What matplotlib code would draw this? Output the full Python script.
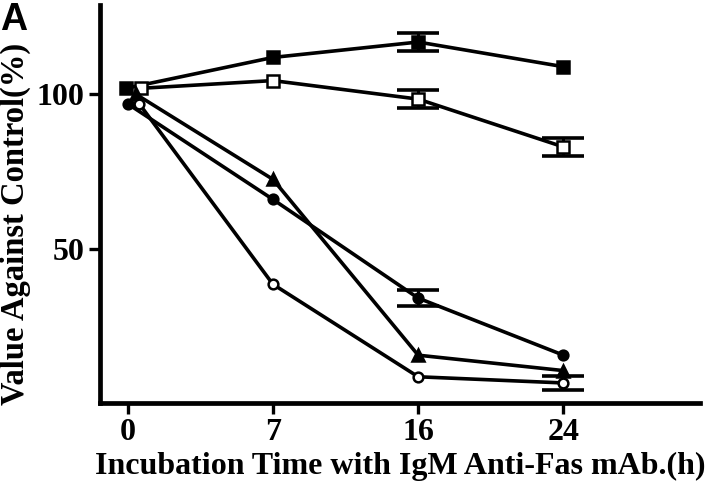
import matplotlib
matplotlib.use("Agg")
import matplotlib.pyplot as plt
import numpy as np

# Data
time_labels = ["0", "7", "16", "24"]
x_pos = [0, 1, 2, 3]

filled_square = [102, 112, 117, 109]
filled_square_err = [0, 0, 3, 0]
open_square = [102, 104.5, 98.5, 83]
open_square_err = [0, 0, 3, 3]
filled_triangle = [100, 72.5, 15.5, 10.5]
filled_triangle_err = [0, 0, 0, 0]
filled_circle = [97, 66, 34, 15.5]
filled_circle_err = [0, 0, 2.5, 0]
open_circle = [97, 38.5, 8.5, 6.5]
open_circle_err = [0, 0, 0, 2.3]

# small horizontal offset of the first markers as drawn in the original
start_offsets = {"fs": -0.01, "os": 0.09, "ft": 0.06, "fc": 0.0, "oc": 0.08}

plt.rcParams['font.family'] = ['Liberation Serif', 'DejaVu Serif']

fig = plt.figure(figsize=(7.2, 4.91), dpi=100)
ax = fig.add_axes([100/720, (491-403)/491, 600/720, 398/491])

lw = 2.6
series = [
    (filled_square, filled_square_err, 's', 'black', 8.5, "fs"),
    (open_square, open_square_err, 's', 'white', 8.5, "os"),
    (filled_triangle, filled_triangle_err, '^', 'black', 8.5, "ft"),
    (filled_circle, filled_circle_err, 'o', 'black', 7, "fc"),
    (open_circle, open_circle_err, 'o', 'white', 7, "oc"),
]
for vals, errs, mk, fc, ms, key in series:
    xs = np.array(x_pos, dtype=float)
    xs[0] += start_offsets[key]
    ax.plot(xs, vals, color='black', lw=lw, marker=mk, markersize=ms,
            markerfacecolor=fc, markeredgecolor='black', markeredgewidth=1.8,
            zorder=3)
    errs = np.array(errs, dtype=float)
    mask = errs > 0
    if mask.any():
        ax.errorbar(xs[mask], np.array(vals)[mask], yerr=errs[mask], fmt='none',
                    ecolor='black', elinewidth=2.2, capsize=15, capthick=2.6,
                    zorder=2)

ax.set_xlim(-0.19, 3.94)
ax.set_ylim(0, 129)
ax.set_xticks(x_pos)
ax.set_xticklabels(time_labels)
ax.set_yticks([50, 100])
ax.set_yticklabels(["50", "100"])

for s in ['top', 'right']:
    ax.spines[s].set_visible(False)
for s in ['left', 'bottom']:
    ax.spines[s].set_linewidth(3.4)

ax.tick_params(axis='both', direction='out', length=8, width=2.4,
               labelsize=23, pad=3)
for lab in ax.get_xticklabels() + ax.get_yticklabels():
    lab.set_fontweight('bold')

ax.set_xlabel("Incubation Time with IgM Anti-Fas mAb.(h)", fontsize=23,
              fontweight='bold', labelpad=3)
ax.set_ylabel("Value Against Control(%)", fontsize=23.5, fontweight='bold')
ax.yaxis.set_label_coords(-0.115, 0.45)

fig.text(0/720, 1 - 30/491, "A", fontsize=27, fontweight='bold',
         family=['Liberation Sans', 'DejaVu Sans'])

fig.savefig("out.png", dpi=100)
